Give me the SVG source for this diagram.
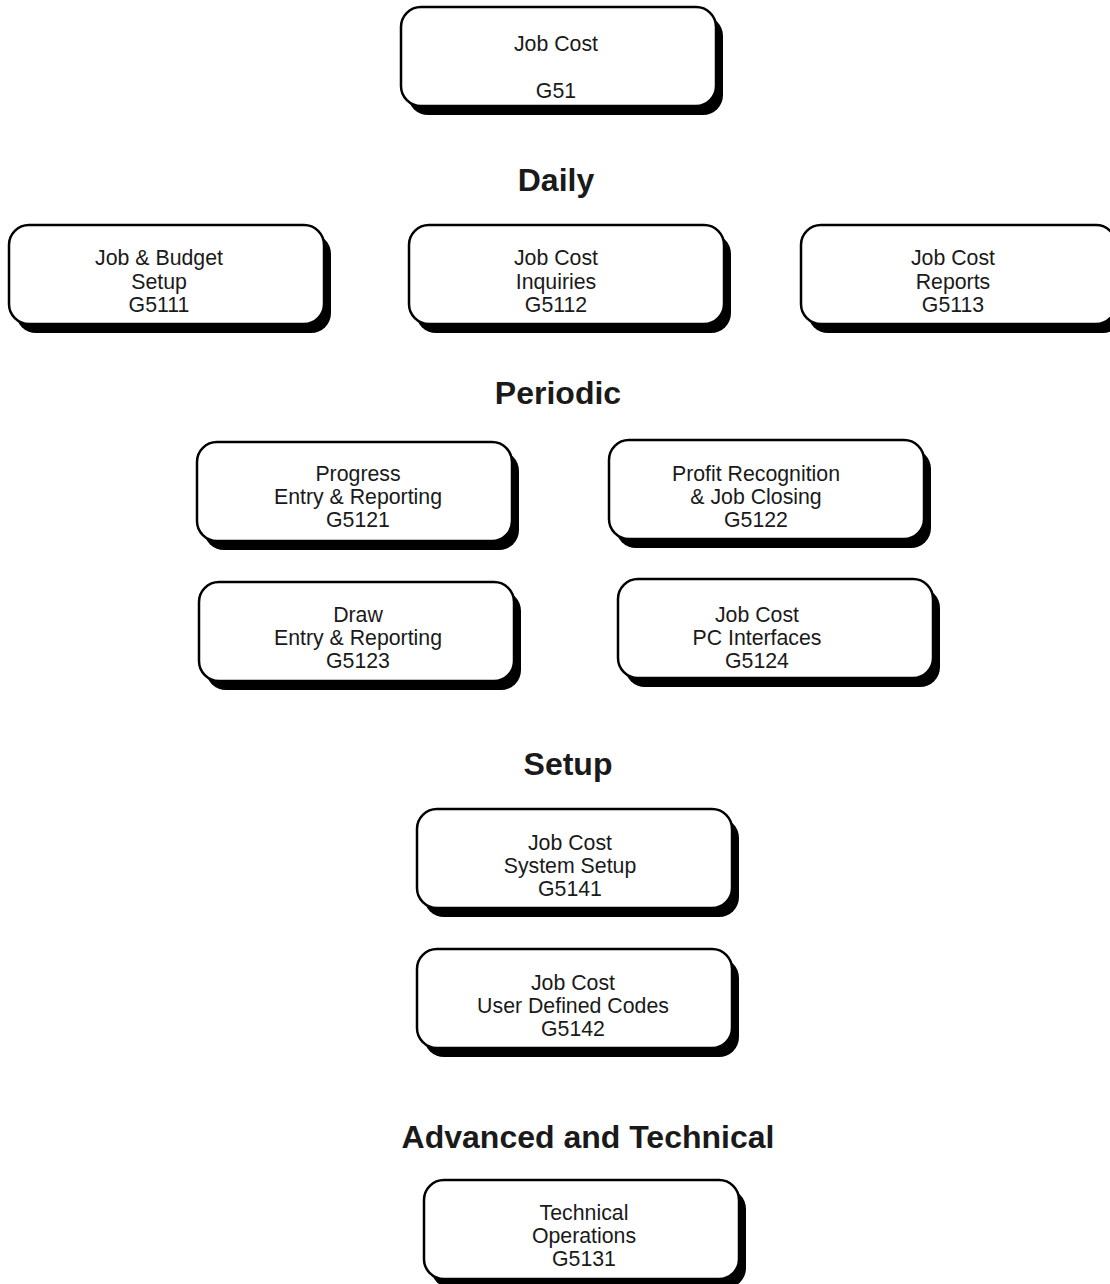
<svg xmlns="http://www.w3.org/2000/svg" width="1110" height="1284" viewBox="0 0 1110 1284">
  <style>
    .shadow { fill: #000; }
    .box { fill: #fff; stroke: #000; stroke-width: 2.5; }
    .lbl { font-family: "Liberation Sans", Arial, sans-serif; font-size: 21.3px; fill: #1a1a1a; text-anchor: middle; }
    .hdr { font-family: "Liberation Sans", Arial, sans-serif; font-size: 32px; font-weight: bold; fill: #1a1a1a; text-anchor: middle; }
  </style>
  <defs>
    <!-- menu card: drop shadow plus outlined face, 315 x 99 -->
    <g id="card">
      <rect class="shadow" x="7" y="9" width="315" height="99" rx="20" ry="20"/>
      <rect class="box" x="0" y="0" width="315" height="99" rx="20" ry="20"/>
    </g>
  </defs>
  <rect width="1110" height="1284" fill="#fff"/>

  <!-- section headings -->
  <text class="hdr" x="556" y="191">Daily</text>
  <text class="hdr" x="558" y="404">Periodic</text>
  <text class="hdr" x="568" y="775">Setup</text>
  <text class="hdr" x="588" y="1148">Advanced and Technical</text>

  <g id="connectors"/>

  <g id="g51">
    <use href="#card" x="401" y="7"/>
    <text class="lbl" x="556" y="51">Job Cost</text>
    <text class="lbl" x="556" y="98">G51</text>
  </g>

  <g id="g5111">
    <use href="#card" x="9" y="225"/>
    <text class="lbl" x="159" y="265">Job &amp; Budget</text>
    <text class="lbl" x="159" y="289">Setup</text>
    <text class="lbl" x="159" y="312">G5111</text>
  </g>

  <g id="g5112">
    <use href="#card" x="409" y="225"/>
    <text class="lbl" x="556" y="265">Job Cost</text>
    <text class="lbl" x="556" y="289">Inquiries</text>
    <text class="lbl" x="556" y="312">G5112</text>
  </g>

  <g id="g5113">
    <use href="#card" x="801" y="225"/>
    <text class="lbl" x="953" y="265">Job Cost</text>
    <text class="lbl" x="953" y="289">Reports</text>
    <text class="lbl" x="953" y="312">G5113</text>
  </g>

  <g id="g5121">
    <use href="#card" x="197" y="442"/>
    <text class="lbl" x="358" y="481">Progress</text>
    <text class="lbl" x="358" y="504">Entry &amp; Reporting</text>
    <text class="lbl" x="358" y="527">G5121</text>
  </g>

  <g id="g5122">
    <use href="#card" x="609" y="440"/>
    <text class="lbl" x="756" y="481">Profit Recognition</text>
    <text class="lbl" x="756" y="504">&amp; Job Closing</text>
    <text class="lbl" x="756" y="527">G5122</text>
  </g>

  <g id="g5123">
    <use href="#card" x="199" y="582"/>
    <text class="lbl" x="358" y="622">Draw</text>
    <text class="lbl" x="358" y="645">Entry &amp; Reporting</text>
    <text class="lbl" x="358" y="668">G5123</text>
  </g>

  <g id="g5124">
    <use href="#card" x="618" y="579"/>
    <text class="lbl" x="757" y="622">Job Cost</text>
    <text class="lbl" x="757" y="645">PC Interfaces</text>
    <text class="lbl" x="757" y="668">G5124</text>
  </g>

  <g id="g5141">
    <use href="#card" x="417" y="809"/>
    <text class="lbl" x="570" y="850">Job Cost</text>
    <text class="lbl" x="570" y="873">System Setup</text>
    <text class="lbl" x="570" y="896">G5141</text>
  </g>

  <g id="g5142">
    <use href="#card" x="417" y="949"/>
    <text class="lbl" x="573" y="990">Job Cost</text>
    <text class="lbl" x="573" y="1013">User Defined Codes</text>
    <text class="lbl" x="573" y="1036">G5142</text>
  </g>

  <g id="g5131">
    <use href="#card" x="424" y="1180"/>
    <text class="lbl" x="584" y="1220">Technical</text>
    <text class="lbl" x="584" y="1243">Operations</text>
    <text class="lbl" x="584" y="1266">G5131</text>
  </g>
</svg>
